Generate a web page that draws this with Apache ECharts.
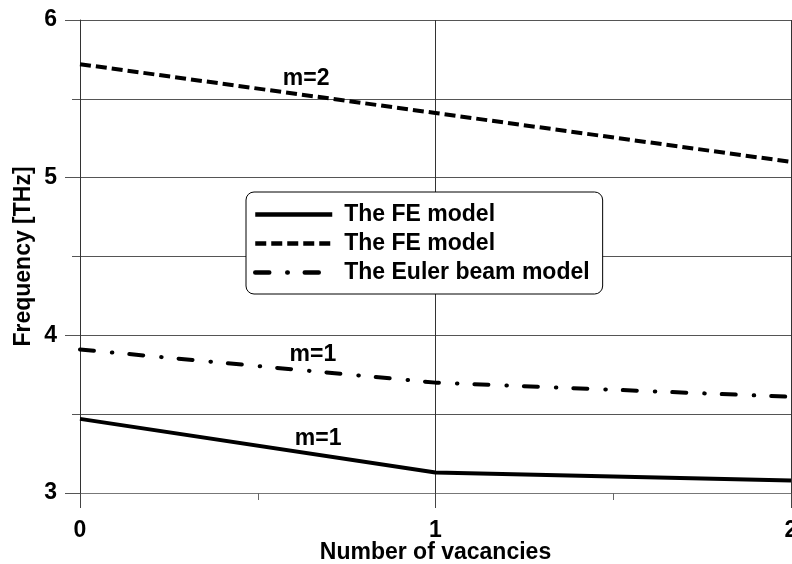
<!DOCTYPE html>
<html>
<head>
<meta charset="utf-8">
<script src="https://cdn.jsdelivr.net/npm/echarts@6/dist/echarts.min.js"></script>
<style>
html,body{margin:0;padding:0;background:#fff;}
#chart{width:792px;height:564px;}
</style>
</head>
<body>
<div id="chart"></div>
<script>
const vacancies = [0, 1, 2];
const feM1 = [3.47, 3.13, 3.08];
const feM2 = [5.72, 5.41, 5.10];
const eulerM1 = [3.91, 3.70, 3.61];
const seriesNames = ['The FE model', 'The FE model ', 'The Euler beam model'];
const annotations = [
  { series: 0, x: 0.67, y: 3.342, text: 'm=1' },
  { series: 1, x: 0.636, y: 5.627, text: 'm=2' },
  { series: 2, x: 0.655, y: 3.875, text: 'm=1' }
];

const FONT = '"Liberation Sans", Arial, sans-serif';
const pairs = arr => vacancies.map((v, i) => [v, arr[i]]);

function mp(idx) {
  return {
    symbol: 'rect', symbolSize: 0, silent: true,
    data: annotations.filter(a => a.series === idx).map(a => ({
      coord: [a.x, a.y],
      label: { show: true, position: 'inside', formatter: a.text, color: '#000', fontSize: 23, fontWeight: 'bold', fontFamily: FONT }
    }))
  };
}

const chart = echarts.init(document.getElementById('chart'), null, { renderer: 'canvas' });
chart.setOption({
  animation: false,
  backgroundColor: '#fff',
  textStyle: { fontFamily: FONT },
  grid: { left: 80, right: 1, top: 20, bottom: 71, containLabel: false, outerBoundsMode: 'none' },
  legend: {
    orient: 'vertical', left: 246, top: 192,
    data: seriesNames,
    formatter: n => n.trim(),
    itemWidth: 77, itemHeight: 23, itemGap: 6,
    padding: [11, 13, 10, 7],
    backgroundColor: '#fff', borderColor: '#000', borderWidth: 1, borderRadius: 8,
    itemStyle: { color: 'rgba(0,0,0,0)', borderWidth: 0, opacity: 0 },
    lineStyle: { width: 4.5, color: '#000' },
    textStyle: { color: '#000', fontSize: 23, fontWeight: 'bold', fontFamily: FONT, padding: [0, 0, 0, 7] },
    selectedMode: false
  },
  xAxis: {
    type: 'value', min: 0, max: 2, interval: 1,
    name: 'Number of vacancies', nameLocation: 'middle', nameGap: 48, nameMoveOverlap: false,
    nameTextStyle: { color: '#000', fontSize: 23, fontWeight: 'bold', fontFamily: FONT },
    axisLine: { show: true, onZero: false, lineStyle: { color: '#777', width: 1 } },
    axisTick: { show: true, length: 15, lineStyle: { color: '#444' } },
    minorTick: { show: true, splitNumber: 2, length: 7, lineStyle: { color: '#666' } },
    axisLabel: { color: '#000', fontSize: 23, fontWeight: 'bold', fontFamily: FONT, margin: 26 },
    splitLine: { show: true, lineStyle: { color: '#333', width: 1 } }
  },
  yAxis: {
    type: 'value', min: 3, max: 6, interval: 1,
    name: 'Frequency [THz]', nameLocation: 'middle', nameGap: 45, nameMoveOverlap: false,
    nameTextStyle: { color: '#000', fontSize: 23, fontWeight: 'bold', fontFamily: FONT },
    axisLine: { show: true, lineStyle: { color: '#333', width: 1 } },
    axisTick: { show: true, length: 15, lineStyle: { color: '#555' } },
    minorTick: { show: true, splitNumber: 2, length: 8, lineStyle: { color: '#555' } },
    axisLabel: { color: '#000', fontSize: 23, fontWeight: 'bold', fontFamily: FONT, margin: 23 },
    splitLine: { show: true, lineStyle: { color: '#555', width: 1 } },
    minorSplitLine: { show: true, lineStyle: { color: '#555', width: 1 } }
  },
  series: [
    {
      name: seriesNames[0], type: 'line', data: pairs(feM1), symbol: 'none',
      lineStyle: { color: '#000', width: 4, type: 'solid' },
      itemStyle: { color: '#000' }, markPoint: mp(0)
    },
    {
      name: seriesNames[1], type: 'line', data: pairs(feM2), symbol: 'none',
      lineStyle: { color: '#000', width: 4, type: [11, 5] },
      itemStyle: { color: '#000' }, markPoint: mp(1)
    },
    {
      name: seriesNames[2], type: 'line', data: pairs(eulerM1), symbol: 'none',
      lineStyle: { color: '#000', width: 4, type: [14, 18, 0.5, 17], cap: 'round' },
      itemStyle: { color: '#000' }, markPoint: mp(2)
    }
  ]
});
</script>
</body>
</html>
